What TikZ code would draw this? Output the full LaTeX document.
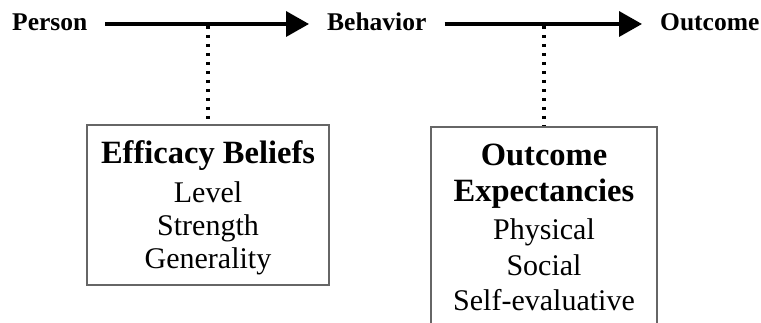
\documentclass[tikz,border=0pt]{standalone}
\usepackage{fontspec}
\setmainfont{Liberation Serif}
\usetikzlibrary{arrows.meta}
\begin{document}
\begin{tikzpicture}[x=1pt,y=-1pt,
  stage/.style={font=\bfseries\fontsize{25.5}{29}\selectfont, inner xsep=18pt, inner ysep=0pt,
                text height=17pt, text depth=3pt},
  flow/.style={line width=3.6pt, -{Triangle[length=23pt,width=25pt]}},
  link/.style={line width=3.2pt, dash pattern=on 3pt off 6pt},
  panel/.style={draw=black!60, line width=1.3pt, inner sep=0pt},
  head/.style={font=\bfseries\fontsize{32.5}{36}\selectfont, anchor=base, inner sep=0pt},
  item/.style={font=\fontsize{30}{35}\selectfont, anchor=base, inner sep=0pt}]
\useasboundingbox (0,0) rectangle (761,323);
\clip (0,0) rectangle (761,323);

% top row: Person -> Behavior -> Outcome
\node[stage, anchor=base west] (person) at (12-18,31) {Person};
\node[stage, anchor=base west] (behav) at (327-18,31) {Behavior};
\node[stage, anchor=base west] (outc) at (660-18,31) {Outcome};
\draw[flow] (person.east) -- (behav.west);
\draw[flow] (behav.east) -- (outc.west);

% efficacy beliefs panel
\node[panel, minimum width=242pt, minimum height=160pt] (eff) at (208,205) {};
\coordinate (d1) at (208,26);
\draw[link] (d1) -- (eff.north);
\node[head] (effh) at (208,164) {Efficacy Beliefs};
\node[item] (eff1) at (208,203) {Level};
\node[item] (eff2) at (208,236) {Strength};
\node[item] (eff3) at (208,269) {Generality};

% outcome expectancies panel
\node[panel, minimum width=226pt, minimum height=230pt] (oe) at (544,242) {};
\coordinate (d2) at (544,26);
\draw[link] (d2) -- (oe.north);
\node[head] (oeh1) at (544,166) {Outcome};
\node[head] (oeh2) at (544,202) {Expectancies};
\node[item] (oe1) at (544,240) {Physical};
\node[item] (oe2) at (544,276) {Social};
\node[item] (oe3) at (544,311) {Self-evaluative};
\end{tikzpicture}
\end{document}
